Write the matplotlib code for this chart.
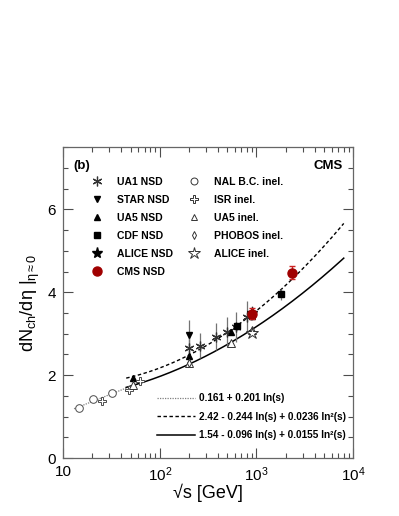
import numpy as np
import matplotlib
matplotlib.use('Agg')
import matplotlib.pyplot as plt
from matplotlib.lines import Line2D
from matplotlib.ticker import FixedLocator, FixedFormatter, LogLocator, MultipleLocator, NullFormatter

plt.rcParams['font.family'] = ['Liberation Sans', 'DejaVu Sans']
plt.rcParams['mathtext.fontset'] = 'custom'
plt.rcParams['mathtext.rm'] = 'Liberation Sans'
plt.rcParams['mathtext.it'] = 'Liberation Sans:italic'
plt.rcParams['mathtext.bf'] = 'Liberation Sans:bold'

# ---- data ----
ua1_nsd_s = [200, 260, 380, 500, 620, 790]
ua1_nsd = [2.65, 2.71, 2.93, 3.05, 3.16, 3.40]
ua1_nsd_err = [0.30, 0.30, 0.33, 0.36, 0.36, 0.38]

star_nsd_s = [200]
star_nsd = [2.98]
star_nsd_err = [0.34]

ua5_nsd_s = [53, 200, 546, 900]
ua5_nsd = [1.93, 2.47, 3.04, 3.43]
ua5_nsd_err = [0.07, 0.06, 0.07, 0.09]

cdf_nsd_s = [630, 1800]
cdf_nsd = [3.18, 3.95]
cdf_nsd_err = [0.09, 0.13]

alice_nsd_s = [900]
alice_nsd = [3.51]
alice_nsd_err = [0.15]

cms_nsd_s = [900, 2360]
cms_nsd = [3.48, 4.47]
cms_nsd_err = [0.13, 0.16]

nal_inel_s = [14.5, 20.5, 32]
nal_inel = [1.21, 1.42, 1.57]

isr_inel_s = [25.5, 48, 63]
isr_inel = [1.37, 1.64, 1.86]

ua5_inel_s = [53, 200, 546, 900]
ua5_inel = [1.76, 2.30, 2.77, 3.09]

phobos_inel_s = [200]
phobos_inel = [2.29]

alice_inel_s = [900]
alice_inel = [3.02]

# fit coefficients (a, b, c) : a + b ln(s) + c ln^2(s)
fit_lin = [0.161, 0.201, 0.0]
fit_nsd = [2.42, -0.244, 0.0236]
fit_inel = [1.54, -0.096, 0.0155]
fit_lin_range = [13, 63]
fit_nsd_range = [45, 8000]
fit_inel_range = [45, 8000]

xtick_vals = [10, 100, 1000, 10000]
xtick_labels = ['10', r'$10^2$', r'$10^3$', r'$10^4$']


def fit_curve(p, rng):
    rs = np.logspace(np.log10(rng[0]), np.log10(rng[1]), 200)
    ls = np.log(rs ** 2)
    return rs, p[0] + p[1] * ls + p[2] * ls ** 2


fig = plt.figure(figsize=(3.99, 5.16), dpi=100)
ax = fig.add_axes([0.158, 0.112, 0.727, 0.603])

# fits
x, y = fit_curve(fit_lin, fit_lin_range)
ax.plot(x, y, color='0.5', ls=(0, (1, 1)), lw=0.9, zorder=1)
x, y = fit_curve(fit_nsd, fit_nsd_range)
ax.plot(x, y, color='k', ls=(0, (2.5, 1.8)), lw=1.0, zorder=1)
x, y = fit_curve(fit_inel, fit_inel_range)
ax.plot(x, y, color='k', ls='-', lw=1.1, zorder=1)

ms = 5.0
grey = '0.45'
ax.errorbar(ua1_nsd_s, ua1_nsd, yerr=ua1_nsd_err, fmt='none', ecolor=grey, elinewidth=0.9, zorder=2)
ax.errorbar(star_nsd_s, star_nsd, yerr=star_nsd_err, fmt='none', ecolor=grey, elinewidth=0.9, zorder=2)
ax.errorbar(ua5_nsd_s, ua5_nsd, yerr=ua5_nsd_err, fmt='none', ecolor=grey, elinewidth=0.9, zorder=2)
ax.errorbar(cdf_nsd_s, cdf_nsd, yerr=cdf_nsd_err, fmt='none', ecolor=grey, elinewidth=0.9, zorder=2)
ax.errorbar(alice_nsd_s, alice_nsd, yerr=alice_nsd_err, fmt='none', ecolor=grey, elinewidth=0.9, zorder=2)

ax.plot(ua1_nsd_s, ua1_nsd, ls='none', marker=(6, 2, 0), ms=7, mec='0.2', mew=0.9, zorder=3)
ax.plot(star_nsd_s, star_nsd, ls='none', marker='v', ms=ms, color='k', zorder=3)
ax.plot(ua5_nsd_s, ua5_nsd, ls='none', marker='^', ms=ms, color='k', zorder=3)
ax.plot(cdf_nsd_s, cdf_nsd, ls='none', marker='s', ms=ms, color='k', zorder=3)
ax.plot(alice_nsd_s, alice_nsd, ls='none', marker='*', ms=8, color='k', zorder=3)

ax.plot(nal_inel_s, nal_inel, ls='none', marker='o', ms=5.5, mfc='white', mec='0.3', mew=0.7, zorder=3)
ax.plot(isr_inel_s, isr_inel, ls='none', marker='P', ms=6, mfc='white', mec='0.3', mew=0.7, zorder=3)
ax.plot(ua5_inel_s, ua5_inel, ls='none', marker='^', ms=5.5, mfc='white', mec='0.2', mew=0.7, zorder=3)
ax.plot(phobos_inel_s, phobos_inel, ls='none', marker='d', ms=4, mfc='white', mec='0.2', mew=0.7, zorder=3)
ax.plot(alice_inel_s, alice_inel, ls='none', marker='*', ms=9, mfc='white', mec='0.2', mew=0.7, zorder=3)

ax.errorbar(cms_nsd_s, cms_nsd, yerr=cms_nsd_err, fmt='o', ms=6.5, color='#a00000',
            ecolor='#cc2222', elinewidth=1.0, capsize=2, capthick=1.0, zorder=4)

# axes
ax.set_xscale('log')
ax.set_xlim(10, 10000)
ax.set_ylim(0, 7.5)
ax.xaxis.set_major_locator(FixedLocator(xtick_vals))
ax.xaxis.set_major_formatter(FixedFormatter(xtick_labels))
ax.xaxis.set_minor_locator(LogLocator(base=10, subs=np.arange(2, 10)))
ax.xaxis.set_minor_formatter(NullFormatter())
ax.yaxis.set_major_locator(MultipleLocator(2))
ax.yaxis.set_minor_locator(MultipleLocator(0.5))
ax.tick_params(which='both', direction='in', top=True, right=True, color='0.3', width=0.8)
ax.tick_params(which='major', length=7, labelsize=11, pad=5)
ax.tick_params(which='minor', length=3.5)
for sp in ax.spines.values():
    sp.set_color('0.4')
    sp.set_linewidth(0.9)

ax.set_xlabel('\u221as [GeV]', fontsize=13, labelpad=0)
ax.set_ylabel(r'$\left.\mathrm{dN_{ch}/d\eta}\ \right|_{\mathrm{\eta\approx0}}$', fontsize=13, labelpad=4)

ax.text(0.035, 0.96, '(b)', transform=ax.transAxes, fontsize=9.5, fontweight='bold', va='top')
ax.text(0.965, 0.96, 'CMS', transform=ax.transAxes, fontsize=9.5, fontweight='bold', va='top', ha='right')

# legend of data sets
h = [
    Line2D([], [], ls='none', marker=(6, 2, 0), ms=7, mec='0.2', mew=0.9),
    Line2D([], [], ls='none', marker='v', ms=ms, color='k'),
    Line2D([], [], ls='none', marker='^', ms=ms, color='k'),
    Line2D([], [], ls='none', marker='s', ms=ms, color='k'),
    Line2D([], [], ls='none', marker='*', ms=8, color='k'),
    Line2D([], [], ls='none', marker='o', ms=6.5, color='#a00000'),
    Line2D([], [], ls='none', marker='o', ms=ms, mfc='white', mec='0.2', mew=0.7),
    Line2D([], [], ls='none', marker='P', ms=5.5, mfc='white', mec='0.2', mew=0.7),
    Line2D([], [], ls='none', marker='^', ms=ms, mfc='white', mec='0.2', mew=0.7),
    Line2D([], [], ls='none', marker='d', ms=4, mfc='white', mec='0.2', mew=0.7),
    Line2D([], [], ls='none', marker='*', ms=9, mfc='white', mec='0.2', mew=0.7),
]
labels = ['UA1 NSD', 'STAR NSD', 'UA5 NSD', 'CDF NSD', 'ALICE NSD', 'CMS NSD',
          'NAL B.C. inel.', 'ISR inel.', 'UA5 inel.', 'PHOBOS inel.', 'ALICE inel.']
leg1 = ax.legend(h, labels, ncol=2, loc='upper left', bbox_to_anchor=(0.09, 0.905),
                 frameon=False, prop={'weight': 'bold', 'size': 7.5},
                 handlelength=1.5, handletextpad=1.15, columnspacing=1.3, labelspacing=0.77,
                 borderpad=0, borderaxespad=0)
ax.add_artist(leg1)

# legend of fits
fh = [
    Line2D([], [], color='0.5', ls=(0, (1, 1)), lw=0.9),
    Line2D([], [], color='k', ls=(0, (2.5, 1.8)), lw=1.0),
    Line2D([], [], color='k', ls='-', lw=1.1),
]
flabels = ['0.161 + 0.201 ln(s)',
           '2.42 - 0.244 ln(s) + 0.0236 ln\u00b2(s)',
           '1.54 - 0.096 ln(s) + 0.0155 ln\u00b2(s)']
ax.legend(fh, flabels, loc='lower right', bbox_to_anchor=(0.975, 0.058),
          frameon=False, prop={'weight': 'bold', 'size': 7.2},
          handlelength=3.8, handletextpad=0.4, labelspacing=0.85,
          borderpad=0, borderaxespad=0)

fig.savefig('out.png', dpi=100)
